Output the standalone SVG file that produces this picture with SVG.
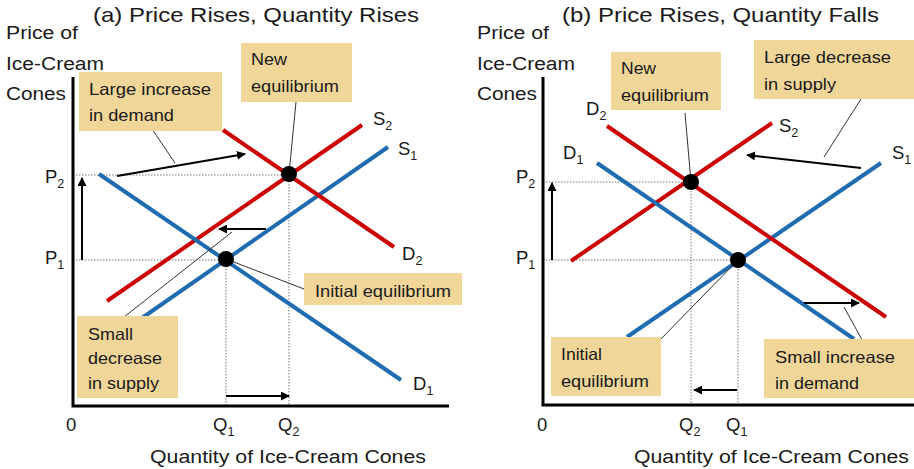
<svg xmlns="http://www.w3.org/2000/svg" width="914" height="469" viewBox="0 0 914 469">
<defs>
<marker id="ah" viewBox="0 0 10 10" refX="9" refY="5" markerWidth="9" markerHeight="9" markerUnits="userSpaceOnUse" orient="auto"><path d="M0,0 L10,5 L0,10 Z" fill="#000"/></marker>
<style>
text{font-family:"Liberation Sans",Arial,sans-serif;fill:#1a1a1a}
.t{font-size:21px}
.ax{font-size:18px}
.lt{font-size:18.5px}
.lb{font-size:16.5px}
.sub{font-size:12.5px}
.box{fill:#f1d699}
.axis{stroke:#000;stroke-width:3;fill:none}
.red{stroke:#cc0000;stroke-width:4;fill:none}
.blue{stroke:#1f6cb0;stroke-width:4;fill:none}
.dot{stroke:#777;stroke-width:1;stroke-dasharray:1.5 1.5;fill:none}
.lead{stroke:#333;stroke-width:1;fill:none}
.arr{stroke:#000;stroke-width:2;fill:none;marker-end:url(#ah)}
</style>
</defs>
<g id="panel-a">
<text class="t" x="93" y="22" textLength="326" lengthAdjust="spacingAndGlyphs">(a) Price Rises, Quantity Rises</text>
<text class="ax" x="6" y="39" textLength="72" lengthAdjust="spacingAndGlyphs">Price of</text>
<text class="ax" x="6" y="70" textLength="98" lengthAdjust="spacingAndGlyphs">Ice-Cream</text>
<text class="ax" x="6" y="100" textLength="60" lengthAdjust="spacingAndGlyphs">Cones</text>
<g id="a-dotted">
<path class="dot" d="M73,175 H289 M73,260 H226 M226,260 V405 M289,175 V405"/>
</g>
<g id="a-axes"><path class="axis" d="M73,77 V406 H449"/></g>
<g id="a-curves">
<line class="red" x1="107" y1="301" x2="362" y2="125"/>
<line class="blue" x1="142" y1="318" x2="388" y2="147"/>
<line class="red" x1="223" y1="130" x2="394" y2="247"/>
<line class="blue" x1="99" y1="174" x2="401" y2="380"/>
</g>
<g id="a-connectors">
<line class="arr" x1="82" y1="260" x2="82" y2="178"/>
<line class="arr" x1="117" y1="176" x2="245" y2="154"/>
<line class="arr" x1="266" y1="229" x2="219" y2="229"/>
<line class="arr" x1="226" y1="396" x2="289" y2="396"/>
<line class="lead" x1="152" y1="129" x2="175" y2="163"/>
<line class="lead" x1="296" y1="102" x2="289" y2="174"/>
<line class="lead" x1="124" y1="317" x2="232" y2="232"/>
<line class="lead" x1="226" y1="259" x2="304" y2="289"/>
</g>
<g id="a-eq-new"><circle cx="289" cy="174" r="8" fill="#000"/></g>
<g id="a-eq-init"><circle cx="226" cy="259" r="8" fill="#000"/></g>
<g id="a-box-demand"><rect class="box" x="79" y="72" width="143" height="59"/>
<text class="lb" x="89" y="95" textLength="122" lengthAdjust="spacingAndGlyphs">Large increase</text><text class="lb" x="89" y="121" textLength="85" lengthAdjust="spacingAndGlyphs">in demand</text></g>
<g id="a-box-new"><rect class="box" x="241" y="43" width="111" height="59"/>
<text class="lb" x="251" y="65" textLength="36" lengthAdjust="spacingAndGlyphs">New</text><text class="lb" x="251" y="92" textLength="88" lengthAdjust="spacingAndGlyphs">equilibrium</text></g>
<g id="a-box-init"><rect class="box" x="304" y="273" width="158" height="32"/>
<text class="lb" x="315" y="297" textLength="136" lengthAdjust="spacingAndGlyphs">Initial equilibrium</text></g>
<g id="a-box-supply"><rect class="box" x="77" y="316" width="101" height="82"/>
<text class="lb" x="88" y="340" textLength="45" lengthAdjust="spacingAndGlyphs">Small</text><text class="lb" x="88" y="364" textLength="74" lengthAdjust="spacingAndGlyphs">decrease</text><text class="lb" x="88" y="389" textLength="71" lengthAdjust="spacingAndGlyphs">in supply</text></g>
<g id="a-labels" class="lt">
<text x="373" y="125">S<tspan class="sub" dy="5">2</tspan></text>
<text x="398" y="155">S<tspan class="sub" dy="5">1</tspan></text>
<text x="402" y="260">D<tspan class="sub" dy="5">2</tspan></text>
<text x="413" y="390">D<tspan class="sub" dy="5">1</tspan></text>
<text x="45" y="183">P<tspan class="sub" dy="5">2</tspan></text>
<text x="45" y="264">P<tspan class="sub" dy="5">1</tspan></text>
<text x="66" y="431">0</text>
<text x="213" y="431">Q<tspan class="sub" dy="5">1</tspan></text>
<text x="278" y="431">Q<tspan class="sub" dy="5">2</tspan></text>
</g>
<text class="ax" x="150" y="463" textLength="276" lengthAdjust="spacingAndGlyphs">Quantity of Ice-Cream Cones</text>
</g>
<g id="panel-b">
<text class="t" x="562" y="22" textLength="317" lengthAdjust="spacingAndGlyphs">(b) Price Rises, Quantity Falls</text>
<text class="ax" x="477" y="39" textLength="72" lengthAdjust="spacingAndGlyphs">Price of</text>
<text class="ax" x="477" y="70" textLength="98" lengthAdjust="spacingAndGlyphs">Ice-Cream</text>
<text class="ax" x="477" y="100" textLength="60" lengthAdjust="spacingAndGlyphs">Cones</text>
<g id="b-dotted">
<path class="dot" d="M543,182 H691 M543,260 H738 M691,182 V404 M738,260 V404"/>
</g>
<g id="b-axes"><path class="axis" d="M543,77 V405 H914"/></g>
<g id="b-curves">
<line class="red" x1="571" y1="261" x2="772" y2="123"/>
<line class="blue" x1="627" y1="337" x2="881" y2="163"/>
<line class="red" x1="607" y1="126" x2="886" y2="317"/>
<line class="blue" x1="597" y1="163" x2="854" y2="339"/>
</g>
<g id="b-connectors">
<line class="arr" x1="552" y1="260" x2="552" y2="183"/>
<line class="arr" x1="861" y1="168" x2="747" y2="155"/>
<line class="arr" x1="804" y1="303" x2="859" y2="303"/>
<line class="arr" x1="737" y1="390" x2="694" y2="390"/>
<line class="lead" x1="861" y1="99" x2="824" y2="157"/>
<line class="lead" x1="685" y1="113" x2="691" y2="182"/>
<line class="lead" x1="866" y1="347" x2="844" y2="307"/>
<line class="lead" x1="657" y1="343" x2="738" y2="260"/>
</g>
<g id="b-eq-new"><circle cx="691" cy="182" r="8" fill="#000"/></g>
<g id="b-eq-init"><circle cx="738" cy="260" r="8" fill="#000"/></g>
<g id="b-box-new"><rect class="box" x="611" y="52" width="110" height="58"/>
<text class="lb" x="621" y="74" textLength="35" lengthAdjust="spacingAndGlyphs">New</text><text class="lb" x="621" y="101" textLength="88" lengthAdjust="spacingAndGlyphs">equilibrium</text></g>
<g id="b-box-supply"><rect class="box" x="754" y="40" width="160" height="59"/>
<text class="lb" x="764" y="63" textLength="127" lengthAdjust="spacingAndGlyphs">Large decrease</text><text class="lb" x="764" y="90" textLength="72" lengthAdjust="spacingAndGlyphs">in supply</text></g>
<g id="b-box-init"><rect class="box" x="551" y="337" width="110" height="59"/>
<text class="lb" x="561" y="360" textLength="41" lengthAdjust="spacingAndGlyphs">Initial</text><text class="lb" x="561" y="387" textLength="88" lengthAdjust="spacingAndGlyphs">equilibrium</text></g>
<g id="b-box-demand"><rect class="box" x="764" y="339" width="150" height="59"/>
<text class="lb" x="775" y="363" textLength="120" lengthAdjust="spacingAndGlyphs">Small increase</text><text class="lb" x="775" y="389" textLength="84" lengthAdjust="spacingAndGlyphs">in demand</text></g>
<g id="b-labels" class="lt">
<text x="586" y="115">D<tspan class="sub" dy="5">2</tspan></text>
<text x="563" y="159">D<tspan class="sub" dy="5">1</tspan></text>
<text x="779" y="132">S<tspan class="sub" dy="5">2</tspan></text>
<text x="892" y="159">S<tspan class="sub" dy="5">1</tspan></text>
<text x="516" y="183">P<tspan class="sub" dy="5">2</tspan></text>
<text x="516" y="264">P<tspan class="sub" dy="5">1</tspan></text>
<text x="537" y="431">0</text>
<text x="679" y="431">Q<tspan class="sub" dy="5">2</tspan></text>
<text x="726" y="431">Q<tspan class="sub" dy="5">1</tspan></text>
</g>
<text class="ax" x="634" y="463" textLength="275" lengthAdjust="spacingAndGlyphs">Quantity of Ice-Cream Cones</text>
</g>
</svg>
